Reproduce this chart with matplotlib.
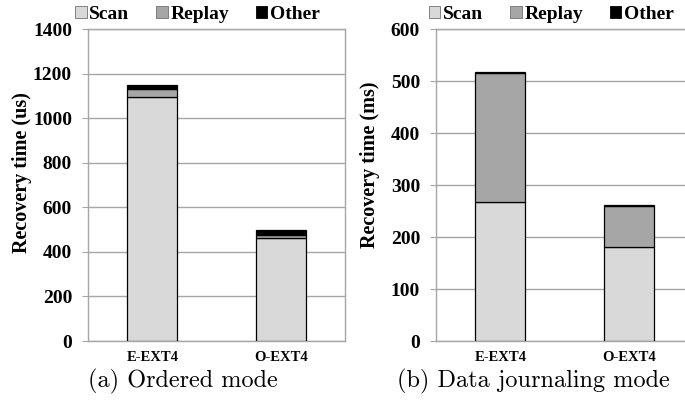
"""Recovery time breakdown: ordered mode vs data journaling mode."""

import matplotlib
matplotlib.use("Agg")
import matplotlib.patches as mpatches
import matplotlib.pyplot as plt

# Data.
SYSTEMS = ["E-EXT4", "O-EXT4"]
COMPONENTS = ["Scan", "Replay", "Other"]

ORDERED_SCAN = [1096, 460]
ORDERED_REPLAY = [33, 15]
ORDERED_OTHER = [20, 25]

JOURNAL_SCAN = [268, 180]
JOURNAL_REPLAY = [248, 80]
JOURNAL_OTHER = [1, 2]

COLORS = {"Scan": "#d9d9d9", "Replay": "#a6a6a6", "Other": "#000000"}
GRID = "#a6a6a6"

SERIF = ["Liberation Serif", "DejaVu Serif"]


def draw_panel(fig, rect, scan, replay, other, ymax, ystep, ylabel, caption,
               legend_x, caption_x, label_y):
    ax = fig.add_axes(rect)
    x = range(len(SYSTEMS))
    bottom = [0] * len(SYSTEMS)
    for name, values in zip(COMPONENTS, (scan, replay, other)):
        ax.bar(x, values, width=0.39, bottom=bottom, color=COLORS[name],
               edgecolor="black", linewidth=0.9, zorder=3, label=name)
        bottom = [b + v for b, v in zip(bottom, values)]

    ax.set_xlim(-0.5, 1.5)
    ax.set_ylim(0, ymax)
    ax.set_yticks(range(0, ymax + 1, ystep))
    ax.set_xticks(list(x))
    ax.set_xticklabels(SYSTEMS, fontfamily=SERIF, fontweight="bold", fontsize=10.5)
    for lbl in ax.get_yticklabels():
        lbl.set_fontfamily(SERIF)
        lbl.set_fontweight("bold")
        lbl.set_fontsize(14)
    ax.tick_params(axis="x", length=0, pad=7)
    ax.tick_params(axis="y", length=4, width=0.8, color=GRID, pad=7.5)
    ax.yaxis.grid(True, color=GRID, linewidth=1.0, zorder=0)
    for spine in ax.spines.values():
        spine.set_color(GRID)
        spine.set_linewidth(1.0)
    ax.set_ylabel(ylabel, fontfamily=SERIF, fontweight="bold", fontsize=14.5)
    # Label sits a little above the axis centre, as in the original.
    ax.yaxis.set_label_coords(-0.218, label_y)

    handles = [mpatches.Patch(facecolor=COLORS[n],
                              edgecolor="#707070" if n != "Other" else "black",
                              linewidth=0.6, label=n) for n in COMPONENTS]
    ax.legend(handles=handles, loc="lower center", bbox_to_anchor=(legend_x, 1.02),
              ncol=3, frameon=False, handlelength=0.6, handleheight=0.6,
              handletextpad=0.15, columnspacing=1.36, borderpad=0, borderaxespad=0,
              prop={"family": SERIF, "weight": "bold", "size": 14})

    fig.text(caption_x, 0.059, caption, ha="center", va="center",
             fontfamily="cmr10", fontsize=17.5)
    return ax


def main():
    fig = plt.figure(figsize=(6.85, 4.05), dpi=100, facecolor="white")

    draw_panel(fig, [88 / 685, 1 - 341 / 405, 257 / 685, 312 / 405],
               ORDERED_SCAN, ORDERED_REPLAY, ORDERED_OTHER, 1400, 200,
               "Recovery time (us)", "(a) Ordered mode", 0.426, 183 / 685, 0.54)
    draw_panel(fig, [436 / 685, 1 - 341 / 405, 257 / 685, 312 / 405],
               JOURNAL_SCAN, JOURNAL_REPLAY, JOURNAL_OTHER, 600, 100,
               "Recovery time (ms)", "(b) Data journaling mode", 0.449, 533 / 685,
               0.564)

    fig.savefig("out.png", dpi=100, facecolor="white")
    plt.close(fig)


if __name__ == "__main__":
    main()
